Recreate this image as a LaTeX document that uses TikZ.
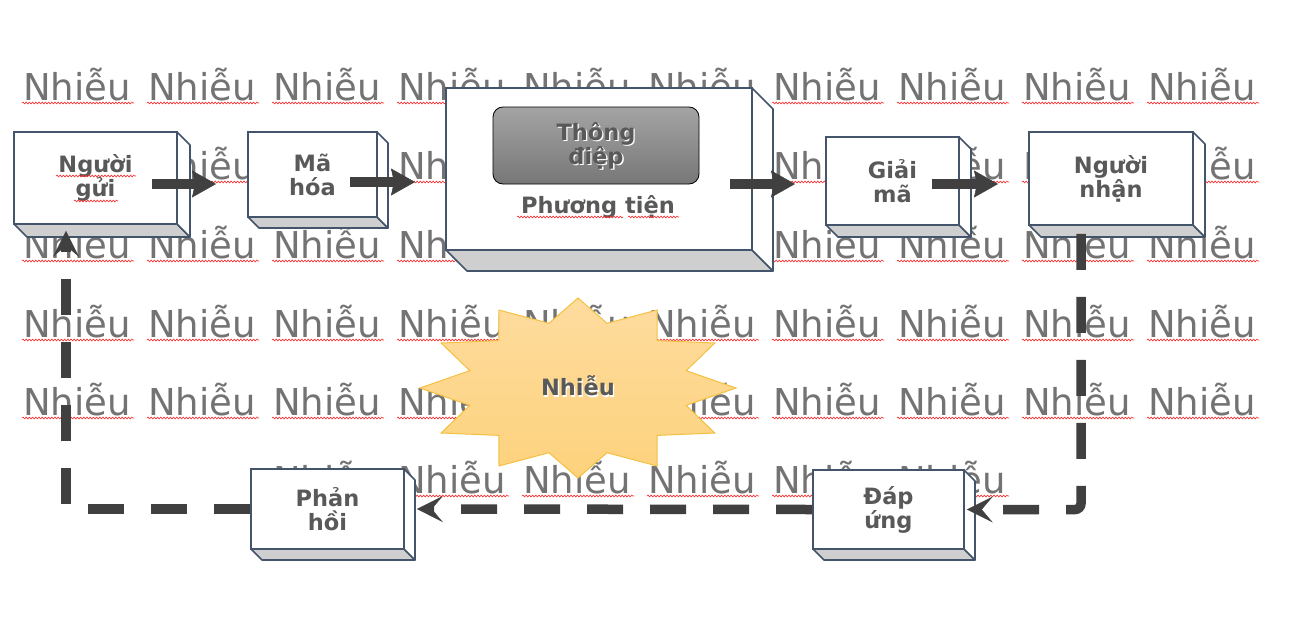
\documentclass[tikz,border=0pt]{standalone}
\usepackage{fontspec}
\setmainfont{DejaVu Sans}
\newfontfamily\bgfont{DejaVu Sans}
\usetikzlibrary{arrows.meta,decorations.pathmorphing,calc}
\definecolor{bgtext}{HTML}{737373}
\definecolor{boxline}{HTML}{44546A}
\definecolor{botface}{HTML}{CFCFCF}
\definecolor{arrowc}{HTML}{404040}
\definecolor{labelc}{HTML}{595959}
\definecolor{starfillA}{HTML}{FEDC9F}
\definecolor{starfillB}{HTML}{FDD27C}
\definecolor{starline}{HTML}{F4C040}
\definecolor{msgA}{HTML}{A4A4A4}
\definecolor{msgB}{HTML}{777777}
\tikzset{
  bgword/.style={anchor=base west, inner sep=0pt, text=bgtext, font=\bgfont\fontsize{37}{40}\selectfont},
  squig/.style={draw=red!85!white, line width=0.6pt, decorate, decoration={snake, amplitude=0.9pt, segment length=3.2pt}},
  frontface/.style={draw=boxline, fill=white, line width=1.6pt, inner sep=0pt, align=center, text=labelc, font=\bfseries\fontsize{22.5}{24}\selectfont},
  sideface/.style={draw=boxline, fill=white, line width=1.6pt, line join=round},
  bottomface/.style={draw=boxline, fill=botface, line width=1.6pt, line join=round},
  solidarrow/.style={draw=arrowc, line width=9.5pt, -{Stealth[length=24pt,width=27pt,inset=3pt,line width=0.5pt]}},
  dashconn/.style={draw=arrowc, line width=9.5pt, dash pattern=on 36pt off 27pt, -{Stealth[length=26pt,width=26pt,inset=11pt,line width=0.5pt]}},
  lbl/.style={text=labelc, font=\bfseries\fontsize{22.5}{24}\selectfont, align=center, inner sep=0pt},
  glow/.style={text=white, font=\bfseries\fontsize{22.5}{24}\selectfont, align=center, inner sep=0pt},
}
\newcommand\cubebox[7]{%
  \path[bottomface] (#2,#5) -- (#4,#5) -- ({#4+#6},{#5+#6}) -- ({#2+#6},{#5+#6}) -- cycle;
  \path[sideface] (#4,#3) -- ({#4+#6},{#3+#6}) -- ({#4+#6},{#5+#6}) -- (#4,#5) -- cycle;
  \node[frontface, minimum width={#4-#2}, minimum height={#5-#3}] (#1) at ({(#2+#4)/2},{(#3+#5)/2}) {#7};
}
\begin{document}
\begin{tikzpicture}[x=1pt,y=-1pt]
\fill[white] (0,0) rectangle (1291,619);
\useasboundingbox (0,0) rectangle (1291,619);
% background noise words
\foreach \r/\yy in {1/100,2/179,3/258,4/337,5/415}{
  \foreach \c in {0,...,9}{
    \node[bgword] (bg-\r-\c) at ({23+125*\c},\yy) {Nhiễu};
    \draw[squig] ({22+125*\c},{\yy+3}) -- ++(112,0);
  }
}
\foreach \c in {2,...,7}{
  \node[bgword] (bg-6-\c) at ({23+125*\c},493) {Nhiễu};
  \draw[squig] ({22+125*\c},496) -- ++(112,0);
}
% boxes
\cubebox{ng}{14}{132}{177}{224}{13}{Người\\gửi}
\cubebox{mh}{248}{132}{377}{217}{11}{Mã\\hóa}
\cubebox{pt}{446}{88}{752}{250}{21}{}
\cubebox{gm}{826}{137}{959}{225}{12}{Giải\\mã}
\cubebox{nn}{1029}{132}{1193}{225}{12}{Người\\nhận}
\cubebox{ph}{251}{469}{404}{549}{11}{Phản\\hồi}
\cubebox{du}{813}{470}{964}{549}{11}{Đáp\\ứng}
\draw[squig] (56,176) -- (136,176);
\draw[squig] (74,201) -- (118,201);
% message inside medium
\node[draw=black, line width=0.8pt, rounded corners=10pt, top color=msgA, bottom color=msgB, minimum width=206, minimum height=77, inner sep=0pt] (msg) at (596,145.5) {};
\node[glow] (msgglow) at (597.3,146.8) {Thông\\điệp};
\node[lbl] (msgtxt) at (596,145.5) {Thông\\điệp};
\node[lbl, anchor=base] (pttxt) at (598,213) {Phương tiện};
\draw[squig] (517,217) -- (623,217);
\draw[squig] (628,217) -- (679,217);
% noise starburst
\begin{scope}[shift={(578,388)}]
\shade[top color=starfillA, bottom color=starfillB, draw=starline, line width=1pt, line join=miter]
  (0:158 and 90) \foreach \a in {15,45,...,345}{ -- (\a:112 and 67) -- (\a+15:158 and 90)} -- cycle;
\end{scope}
\node[glow] (noiseglow) at (579.3,387.3) {Nhiễu};
\node[lbl] (noise) at (578,386) {Nhiễu};
% solid arrows
\coordinate (a1s) at (152,184); \coordinate (a1e) at (216,184);
\coordinate (a2s) at (350,182); \coordinate (a2e) at (415,182);
\coordinate (a3s) at (730,184); \coordinate (a3e) at (795,184);
\coordinate (a4s) at (932,184); \coordinate (a4e) at (998,184);
\draw[solidarrow] (a1s) -- (a1e);
\draw[solidarrow] (a2s) -- (a2e);
\draw[solidarrow] (a3s) -- (a3e);
\draw[solidarrow] (a4s) -- (a4e);
% dashed feedback loop
\draw[dashconn, rounded corners=6pt] ([xshift=-30pt,yshift=-8pt]nn.south) |- ([xshift=2pt]du.east);
\draw[dashconn] (du.west) -- ([xshift=12pt]ph.east);
\draw[dashconn] (ph.west) -| ([xshift=-29.5pt,yshift=-6pt]ng.south);
\end{tikzpicture}
\end{document}
